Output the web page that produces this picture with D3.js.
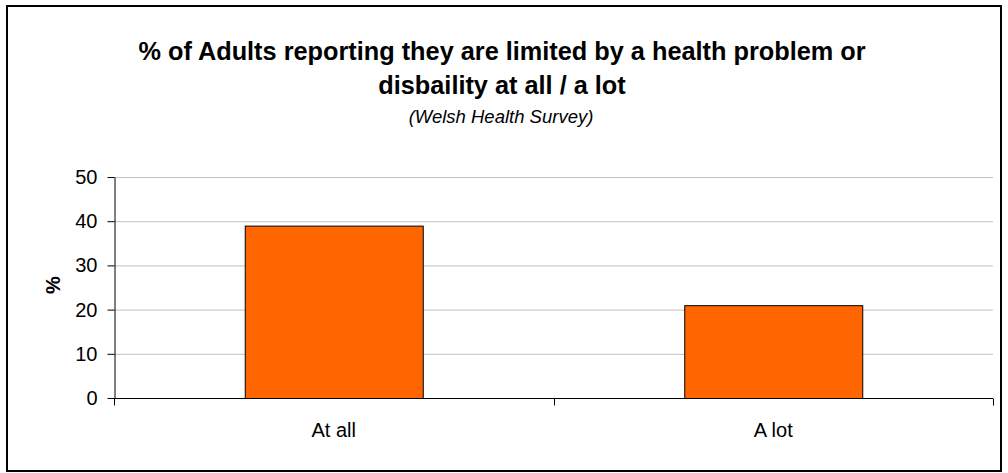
<!DOCTYPE html>
<html>
<head>
<meta charset="utf-8">
<script src="https://cdn.jsdelivr.net/npm/d3@7"></script>
<style>
  html, body { margin: 0; padding: 0; background: #fff; }
  svg { display: block; }
  text { font-family: "Liberation Sans", Arial, sans-serif; fill: #000; }
</style>
</head>
<body>
<svg id="chart" width="1008" height="473"></svg>
<script>
// Survey results
const categories = ["At all", "A lot"];
const values = [39, 21];
const yTicks = [0, 10, 20, 30, 40, 50];
const titleLines = ["% of Adults reporting they are limited by a health problem or", "disbaility at all / a lot"];
const subtitle = "(Welsh Health Survey)";
const yLabel = "%";

const W = 1008, H = 473;
const m = { left: 114, right: 1008 - 993, top: 177, bottom: 473 - 398 };
const svg = d3.select("#chart");

// outer frame
svg.append("rect")
  .attr("x", 7).attr("y", 6)
  .attr("width", 1001 - 7).attr("height", 471 - 6)
  .attr("fill", "#fff").attr("stroke", "#000").attr("stroke-width", 2);

const x = d3.scaleBand()
  .domain(categories)
  .range([m.left, W - m.right])
  .paddingInner(0.595).paddingOuter(0.2975);

const y = d3.scaleLinear().domain([0, 50]).range([H - m.bottom, m.top]);

// horizontal gridlines
svg.append("g").selectAll("line")
  .data(yTicks.filter(d => d > 0))
  .join("line")
  .attr("x1", m.left).attr("x2", W - m.right)
  .attr("y1", d => y(d) + 0.5).attr("y2", d => y(d) + 0.5)
  .attr("stroke", "#c0c0c0").attr("stroke-width", 1);

// bars
svg.append("g").selectAll("rect")
  .data(values)
  .join("rect")
  .attr("x", (d, i) => x(categories[i]) + 0.5)
  .attr("y", d => y(d) + 0.5)
  .attr("width", x.bandwidth())
  .attr("height", d => y(0) - y(d))
  .attr("fill", "#ff6600")
  .attr("stroke", "#000").attr("stroke-width", 1);

// y axis
const yAxis = svg.append("g")
  .attr("transform", `translate(${m.left + 0.5},0)`)
  .call(d3.axisLeft(y).tickValues(yTicks).tickSize(7).tickPadding(10).tickSizeOuter(0));
yAxis.selectAll("text").style("font-size", "20px").style("font-family", "Liberation Sans, Arial, sans-serif");
yAxis.selectAll("line, path").attr("stroke", "#000");

// x axis with ticks at category boundaries
const xAxisG = svg.append("g").attr("transform", `translate(0,${y(0) + 0.5})`);
xAxisG.append("line")
  .attr("x1", m.left).attr("x2", W - m.right)
  .attr("stroke", "#000");
const bounds = [m.left, m.left + (W - m.right - m.left) / 2, W - m.right];
xAxisG.selectAll("line.tick")
  .data(bounds)
  .join("line")
  .attr("class", "tick")
  .attr("x1", d => Math.round(d) + 0.5).attr("x2", d => Math.round(d) + 0.5)
  .attr("y1", 0).attr("y2", 7)
  .attr("stroke", "#000");
xAxisG.selectAll("text")
  .data(categories)
  .join("text")
  .attr("x", d => x(d) + x.bandwidth() / 2)
  .attr("y", 38)
  .attr("text-anchor", "middle")
  .style("font-size", "20px")
  .text(d => d);

// y label
svg.append("text")
  .attr("transform", `translate(60,285) rotate(-90)`)
  .attr("text-anchor", "middle")
  .style("font-size", "20px").style("font-weight", "bold")
  .text(yLabel);

// titles
svg.selectAll("text.title")
  .data(titleLines)
  .join("text")
  .attr("class", "title")
  .attr("x", 502).attr("y", (d, i) => 60 + i * 34)
  .attr("text-anchor", "middle")
  .style("font-size", "25.3px").style("font-weight", "bold")
  .text(d => d);

svg.append("text")
  .attr("x", 501).attr("y", 123)
  .attr("text-anchor", "middle")
  .style("font-size", "18.5px").style("font-style", "italic")
  .text(subtitle);
</script>
</body>
</html>
